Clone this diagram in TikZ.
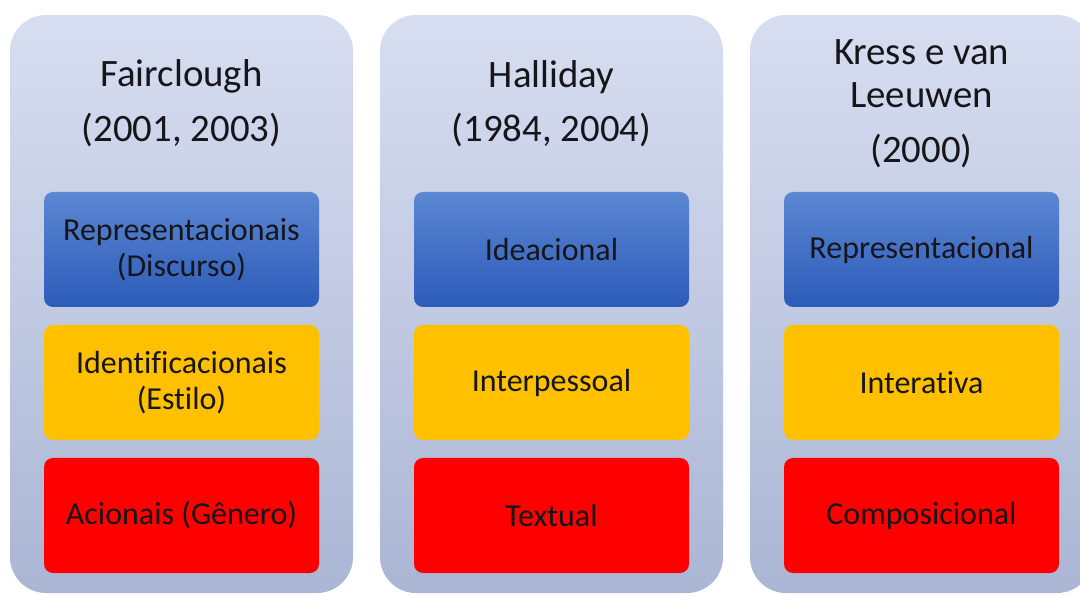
\documentclass[tikz,border=0pt]{standalone}
\usepackage{fontspec}
\setmainfont{Carlito}[RawFeature=-liga]
\definecolor{panelTop}{RGB}{216,222,241}
\definecolor{panelBot}{RGB}{170,182,212}
\definecolor{blueTop}{RGB}{92,135,210}
\definecolor{blueBot}{RGB}{44,91,185}
\definecolor{gold}{RGB}{255,192,0}
\definecolor{redFill}{RGB}{255,0,0}
\definecolor{ink}{RGB}{22,22,26}
\begin{document}
\begin{tikzpicture}[x=1pt,y=1pt,
  panel/.style={rectangle, rounded corners=36pt, draw=none, inner sep=0pt,
    top color=panelTop, bottom color=panelBot,
    minimum width=343pt, minimum height=578pt},
  heading/.style={anchor=base, text=ink, inner sep=0pt,
    font=\fontsize{38.8}{46}\selectfont},
  card/.style={rectangle, rounded corners=9pt, inner sep=2pt, align=center,
    minimum width=275pt, minimum height=115pt, text=ink,
    font=\fontsize{32}{36.5}\selectfont},
  ideational/.style={card, top color=blueTop, bottom color=blueBot},
  interpersonal/.style={card, fill=gold},
  textual/.style={card, fill=redFill},
]
\useasboundingbox (0,0) rectangle (1080,595);
\fill[white] (0,0) rectangle (1080,595);
\clip (0,0) rectangle (1080,595);

% three columns
\node[panel] (pF) at (181.5,291) {};
\node[panel] (pH) at (551.5,291) {};
\node[panel] (pK) at (921.5,291) {};

% column headings
\node[heading] (tF1) at (181.5,508) {Fairclough};
\node[heading] (tF2) at (181.5,453) {(2001, 2003)};
\node[heading] (tH1) at (551.5,507) {Halliday};
\node[heading] (tH2) at (551.5,453) {(1984, 2004)};
\node[heading] (tK1) at (921.5,530) {Kress e van};
\node[heading] (tK2) at (921.5,487) {Leeuwen};
\node[heading] (tK3) at (921.5,432) {(2000)};

% metafunction cards
\node[ideational] (fA) at (181.5,345.5) {Representacionais\\(Discurso)};
\node[interpersonal] (fB) at (181.5,212.5) {Identificacionais\\(Estilo)};
\node[textual] (fC) at (181.5,79.5) {Acionais (Gênero)};

\node[ideational] (hA) at (551.5,345.5) {Ideacional};
\node[interpersonal] (hB) at (551.5,212.5) {Interpessoal};
\node[textual] (hC) at (551.5,79.5) {Textual};

\node[ideational] (kA) at (921.5,345.5) {Representacional};
\node[interpersonal] (kB) at (921.5,212.5) {Interativa};
\node[textual] (kC) at (921.5,79.5) {Composicional};
\end{tikzpicture}
\end{document}
